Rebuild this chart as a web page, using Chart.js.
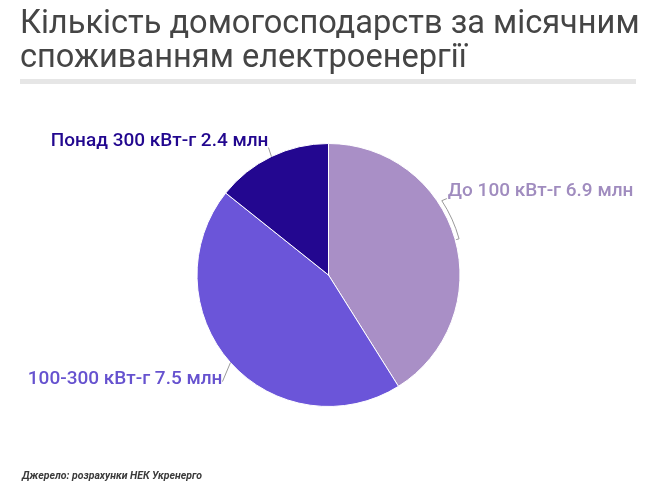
<!DOCTYPE html>
<html lang="uk">
<head>
<meta charset="utf-8">
<script src="https://cdn.jsdelivr.net/npm/chart.js@4"></script>
<style>
  html, body { margin: 0; padding: 0; background: #fff; }
  body { width: 650px; height: 490px; position: relative; overflow: hidden; font-family: Roboto, "Noto Sans", sans-serif; }
  #wrap { position: absolute; left: 0; top: 0; width: 650px; height: 490px; }
  h1 {
    position: absolute; left: 20px; top: 5px; margin: 0;
    font-size: 32.6px; font-weight: 400; line-height: 34px; color: #454545;
  }
  .rule { position: absolute; left: 20px; top: 79px; width: 616px; height: 5px; background: #e6e6e6; }
  .source {
    position: absolute; left: 22px; top: 469px;
    font-size: 10.5px; font-style: italic; font-weight: 700; color: #3a3a3a;
  }
</style>
</head>
<body>
<div id="wrap"><canvas id="pieChart"></canvas></div>
<h1>Кількість домогосподарств за місячним<br>споживанням електроенергії</h1>
<div class="rule"></div>
<div class="source">Джерело: розрахунки НЕК Укренерго</div>
<script>
const categories = ["До 100 кВт-г", "100-300 кВт-г", "Понад 300 кВт-г"];
const households = [6.9, 7.5, 2.4];
const unitLabel = "млн";
const sliceColors = ["#a98fc6", "#6b55d9", "#230790"];
const labelColors = ["#a08cbf", "#6652cf", "#22078f"];

// where each label sits relative to the middle of its slice's outer edge
const labelPlacement = [
  { text: [-7, -47], align: "left", bracket: true },
  { text: [-8, 17], line: [-8, 19], align: "right" },
  { text: [-3, -15], line: [-3, -9], align: "right" }
];

const outsideLabels = {
  id: "outsideLabels",
  afterDatasetsDraw(chart) {
    const ctx = chart.ctx;
    const meta = chart.getDatasetMeta(0);
    ctx.save();
    ctx.font = "500 19px Roboto, 'Noto Sans', sans-serif";
    ctx.textBaseline = "middle";
    meta.data.forEach((arc, i) => {
      const p = arc.getProps(["x", "y", "startAngle", "endAngle", "outerRadius"], true);
      const mid = (p.startAngle + p.endAngle) / 2;
      const ex = p.x + Math.cos(mid) * p.outerRadius;
      const ey = p.y + Math.sin(mid) * p.outerRadius;
      const place = labelPlacement[i];

      ctx.strokeStyle = "#9a9a9a";
      ctx.lineWidth = 1;
      if (place.bracket) {
        const r = p.outerRadius + 4;
        const a0 = mid - 0.30;
        const a1 = mid + 0.01;
        ctx.beginPath();
        ctx.moveTo(ex + place.text[0] - 1, ey + place.text[1] + 7);
        ctx.lineTo(p.x + Math.cos(a0) * r, p.y + Math.sin(a0) * r);
        ctx.arc(p.x, p.y, r, a0, a1);
        ctx.lineTo(p.x + Math.cos(a1) * (r - 3), p.y + Math.sin(a1) * (r - 3));
        ctx.stroke();
      } else {
        ctx.beginPath();
        ctx.moveTo(ex, ey);
        ctx.lineTo(ex + place.line[0], ey + place.line[1]);
        ctx.stroke();
      }

      ctx.fillStyle = labelColors[i];
      ctx.textAlign = place.align;
      ctx.fillText(categories[i] + " " + households[i] + " " + unitLabel, ex + place.text[0], ey + place.text[1]);
    });
    ctx.restore();
  }
};

new Chart(document.querySelector("#pieChart"), {
  type: "pie",
  data: {
    labels: categories,
    datasets: [{
      data: households,
      backgroundColor: sliceColors,
      borderColor: "#ffffff",
      borderWidth: 1
    }]
  },
  options: {
    responsive: true,
    maintainAspectRatio: false,
    animation: false,
    layout: {
      padding: { left: 196, right: 189, top: 143, bottom: 83 }
    },
    plugins: {
      legend: { display: false },
      tooltip: { enabled: false }
    }
  },
  plugins: [outsideLabels]
});
</script>
</body>
</html>
